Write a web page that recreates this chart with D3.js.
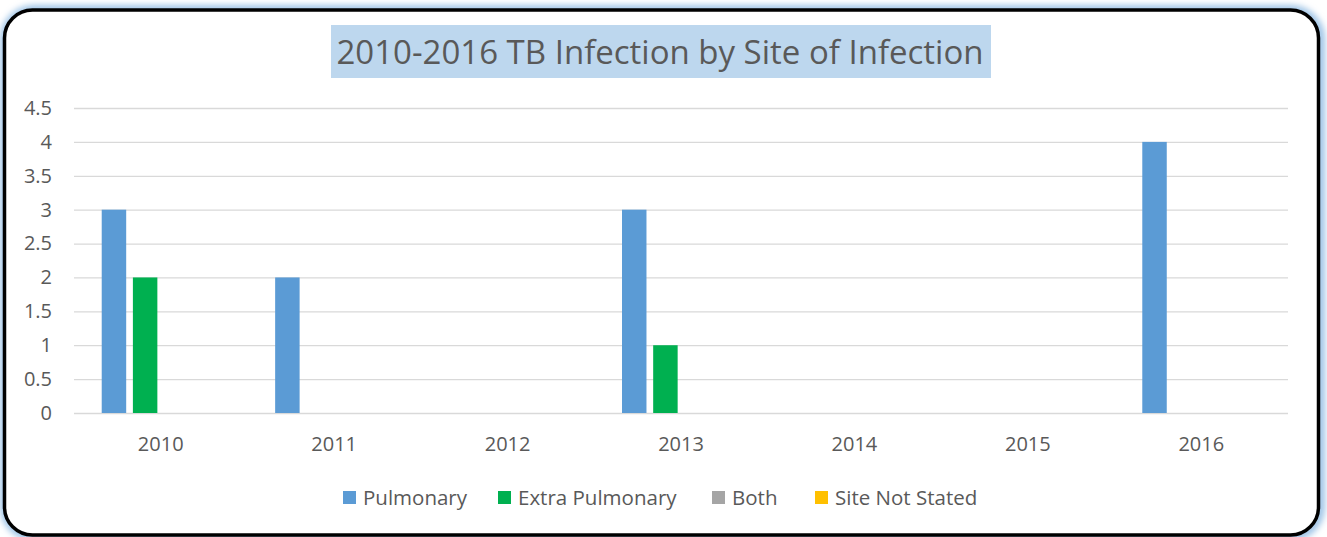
<!DOCTYPE html>
<html lang="en">
  <head>
    <meta charset="UTF-8" />
    <title>2010-2016 TB Infection by Site of Infection</title>
    <style>
      body {
        margin: 0;
        background: #fff;
        font-family: "Open Sans", "Noto Sans", sans-serif;
      }
      svg {
        display: block;
      }
    </style>
  </head>
  <body>
    <script src="https://cdn.jsdelivr.net/npm/d3@7"></script>
    <script>
      var years = ["2010", "2011", "2012", "2013", "2014", "2015", "2016"];
      var seriesNames = ["Pulmonary", "Extra Pulmonary", "Both", "Site Not Stated"];
      var seriesColors = ["#5B9BD5", "#00B050", "#A5A5A5", "#FFC000"];
      var pulmonary = [3, 2, 0, 3, 0, 0, 4];
      var extraPulmonary = [2, 0, 0, 1, 0, 0, 0];
      var both = [0, 0, 0, 0, 0, 0, 0];
      var siteNotStated = [0, 0, 0, 0, 0, 0, 0];
      var yTicks = [0, 0.5, 1, 1.5, 2, 2.5, 3, 3.5, 4, 4.5];

      var values = [pulmonary, extraPulmonary, both, siteNotStated];
      var width = 1327, height = 537;
      var textColor = "#595959";
      var labelSize = "20px";

      var svg = d3.select("body").append("svg")
        .attr("width", width)
        .attr("height", height);

      // glow behind the frame
      var defs = svg.append("defs");
      var f = defs.append("filter").attr("id", "glow")
        .attr("x", "-5%").attr("y", "-5%").attr("width", "110%").attr("height", "110%");
      f.append("feGaussianBlur").attr("stdDeviation", 3);

      svg.append("rect")
        .attr("x", 4.5).attr("y", 9.5).attr("width", 1316).attr("height", 527)
        .attr("rx", 30)
        .attr("fill", "none")
        .attr("stroke", "#9DC3E6")
        .attr("stroke-width", 9)
        .attr("filter", "url(#glow)");

      svg.append("rect")
        .attr("x", 4.5).attr("y", 10).attr("width", 1314).attr("height", 525)
        .attr("rx", 28)
        .attr("fill", "#fff")
        .attr("stroke", "#000")
        .attr("stroke-width", 3.5);

      // title
      svg.append("rect")
        .attr("x", 331).attr("y", 25).attr("width", 660).attr("height", 53)
        .attr("fill", "#BDD7EE");
      svg.append("text")
        .attr("x", 660).attr("y", 64)
        .attr("text-anchor", "middle")
        .attr("fill", textColor)
        .style("font-size", "33px")
        .text("2010-2016 TB Infection by Site of Infection");

      var plotLeft = 74, plotRight = 1288, plotTop = 108, plotBottom = 413;

      var y = d3.scaleLinear().domain([0, 4.5]).range([plotBottom, plotTop]);
      var x0 = d3.scaleBand().domain(years).range([plotLeft, plotRight]).padding(0);
      var groupW = 118;
      var x1 = d3.scaleBand().domain(seriesNames).range([0, groupW])
        .paddingInner(0.215).paddingOuter(0);

      // gridlines
      var yAxis = d3.axisLeft(y).tickValues(yTicks)
        .tickSize(-(plotRight - plotLeft)).tickPadding(22)
        .tickFormat(d3.format("~g"));
      var gy = svg.append("g")
        .attr("transform", "translate(" + plotLeft + ",0)")
        .call(yAxis);
      gy.select(".domain").remove();
      gy.selectAll("line").attr("stroke", "#D9D9D9").attr("stroke-width", 1.3);
      gy.selectAll("text")
        .attr("fill", textColor)
        .style("font-size", labelSize)
        .style("font-family", "'Open Sans', sans-serif");

      // bars
      var groups = svg.append("g").selectAll("g")
        .data(years)
        .join("g")
        .attr("transform", function(d) {
          return "translate(" + (x0(d) + (x0.bandwidth() - groupW) / 2) + ",0)";
        });

      groups.selectAll("rect")
        .data(function(d, i) {
          return seriesNames.map(function(s, j) {
            return { s: s, v: values[j][i], c: seriesColors[j] };
          });
        })
        .join("rect")
        .attr("x", function(d) { return x1(d.s); })
        .attr("width", x1.bandwidth())
        .attr("y", function(d) { return y(d.v); })
        .attr("height", function(d) { return y(0) - y(d.v); })
        .attr("fill", function(d) { return d.c; });

      // x axis labels
      var xAxis = d3.axisBottom(x0).tickSize(0).tickPadding(24);
      var gx = svg.append("g")
        .attr("transform", "translate(0," + plotBottom + ")")
        .call(xAxis);
      gx.select(".domain").remove();
      gx.selectAll("text")
        .attr("fill", textColor)
        .style("font-size", labelSize)
        .style("font-family", "'Open Sans', sans-serif");

      // legend
      var legendX = [343, 498, 712, 815];
      var legend = svg.append("g").selectAll("g")
        .data(seriesNames)
        .join("g")
        .attr("transform", function(d, i) { return "translate(" + legendX[i] + ",491)"; });
      legend.append("rect")
        .attr("width", 13).attr("height", 13)
        .attr("fill", function(d, i) { return seriesColors[i]; });
      legend.append("text")
        .attr("x", 20).attr("y", 13.5)
        .attr("fill", textColor)
        .style("font-size", "20.5px")
        .text(function(d) { return d; });
    </script>
  </body>
</html>
